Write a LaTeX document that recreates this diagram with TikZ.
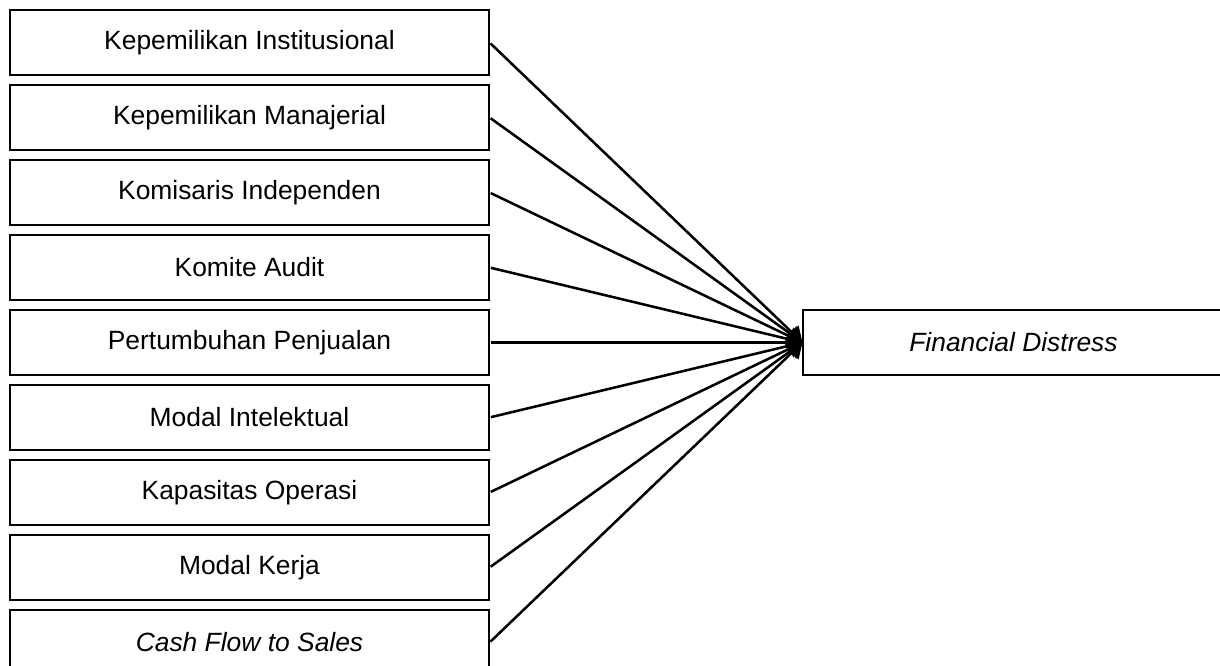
\documentclass[tikz,border=0pt]{standalone}
\usepackage{fontspec}
\setmainfont{Liberation Sans}
\usetikzlibrary{arrows.meta}

\tikzset{
  varbox/.style={draw, line width=0.8pt, minimum width=359.25pt, minimum height=48.75pt, inner sep=0.75pt, font=\fontsize{19.8}{23}\selectfont},
  effect/.style={line width=1.9pt, -{Triangle[length=11pt,width=14pt]}, shorten <=1pt}
}

\begin{document}
\begin{tikzpicture}[x=0.75pt,y=0.75pt,yscale=-1,xscale=1]
\useasboundingbox (0,0) rectangle (1220,666);
\clip (0,0) rectangle (1220,666);

%Shape: Rectangle [id:ki] 
\node [varbox] (ki) at (249.5,42.5) {Kepemilikan Institusional};
%Shape: Rectangle [id:km] 
\node [varbox] (km) at (249.5,117.5) {Kepemilikan Manajerial};
%Shape: Rectangle [id:kin] 
\node [varbox] (kin) at (249.5,192.5) {Komisaris Independen};
%Shape: Rectangle [id:ka] 
\node [varbox] (ka) at (249.5,267.5) {Komite Audit};
%Shape: Rectangle [id:pp] 
\node [varbox] (pp) at (249.5,342.5) {Pertumbuhan Penjualan};
%Shape: Rectangle [id:mi] 
\node [varbox] (mi) at (249.5,417.5) {Modal Intelektual};
%Shape: Rectangle [id:ko] 
\node [varbox] (ko) at (249.5,492.5) {Kapasitas Operasi};
%Shape: Rectangle [id:mk] 
\node [varbox] (mk) at (249.5,567.5) {Modal Kerja};
%Shape: Rectangle [id:cfs] 
\node [varbox] (cfs) at (249.5,642.5) {\itshape Cash Flow to Sales};

%Shape: Rectangle [id:fd] 
\node [varbox, minimum width=315.75pt] (fd) at (1013.5,342.5) {\itshape Financial Distress};

%Straight Lines 
\draw [effect] (ki.east) -- (fd.west);
\draw [effect] (km.east) -- (fd.west);
\draw [effect] (kin.east) -- (fd.west);
\draw [effect] (ka.east) -- (fd.west);
\draw [effect] (pp.east) -- (fd.west);
\draw [effect] (mi.east) -- (fd.west);
\draw [effect] (ko.east) -- (fd.west);
\draw [effect] (mk.east) -- (fd.west);
\draw [effect] (cfs.east) -- (fd.west);

\end{tikzpicture}
\end{document}
